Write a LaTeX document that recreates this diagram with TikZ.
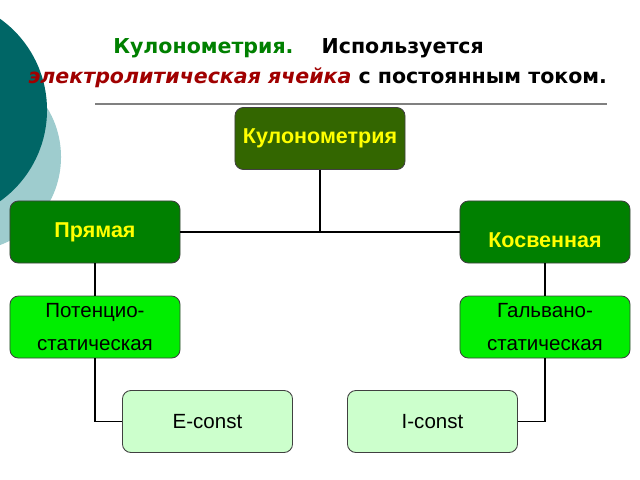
\documentclass[tikz,border=0pt]{standalone}
\usepackage{fontspec}
\setmainfont{Liberation Sans}
\newfontfamily\headfont{DejaVu Sans}
\usetikzlibrary{positioning}
\definecolor{tealdark}{RGB}{0,102,102}
\definecolor{teallight}{RGB}{158,204,206}
\definecolor{olivebox}{RGB}{51,102,0}
\definecolor{greenbox}{RGB}{0,128,0}
\definecolor{limebox}{RGB}{0,238,0}
\definecolor{palebox}{RGB}{204,255,204}
\definecolor{boxyellow}{RGB}{255,255,0}
\definecolor{titlegreen}{RGB}{0,128,0}
\definecolor{titlered}{RGB}{160,0,0}
\tikzset{cbox/.style={draw=black!75, line width=0.6pt, rounded corners=6pt, minimum width=4.25cm, minimum height=1.55cm, inner sep=0pt, outer sep=0pt, align=center, font=\fontsize{14.6}{17.5}\selectfont}}
\tikzset{cbox0/.style={cbox, fill=olivebox, text=boxyellow, font=\bfseries\fontsize{15.3}{18}\selectfont}}
\tikzset{cbox1/.style={cbox, fill=greenbox, text=boxyellow, font=\bfseries\fontsize{15.3}{18}\selectfont}}
\tikzset{cbox2/.style={cbox, fill=limebox, text=black}}
\tikzset{cbox3/.style={cbox, fill=palebox, text=black}}
\tikzset{klbl/.style={text=boxyellow, font=\bfseries\fontsize{15.3}{18}\selectfont, inner sep=0pt}}
\tikzset{ttl/.style={anchor=base west, inner sep=0pt, font=\headfont\bfseries\fontsize{14.6}{17.5}\selectfont}}
\tikzset{conn/.style={draw, line width=1.3pt}}
\tikzset{sepline/.style={draw=gray, line width=0.8pt}}

\begin{document}
\begin{tikzpicture}[x=0.025cm, y=-0.025cm]
	\useasboundingbox (0,0) rectangle (640,480);
	% corner circles
	\fill[teallight] (-33,157) circle (2.35cm);
	\fill[tealdark] (-65,110) circle (2.8cm);
	% heading
	\node[ttl] (ttl1) at (113,54)
		{\textcolor{titlegreen}{Кулонометрия.}\hspace{20pt}Используется};
	\node[ttl] (ttl2) at (28,83)
		{\textcolor{titlered}{\itshape электролитическая ячейка} с постоянным током.};
	\coordinate (sepL) at (95,104);
	\coordinate (sepR) at (607,104);
	\draw[sepline] (sepL) -- (sepR);
	% tree
	\node[cbox0] (kul) at (320,138.5) {Кулонометрия};
	\node[cbox1] (pryam) at (95,232) {Прямая};
	\node[cbox1, label={[klbl, yshift=-0.2cm]center:Косвенная}] (kosv) at (545,232) {};
	\node[cbox2, below=0.825cm of pryam] (poten) {Потенцио-\\[6.5pt]статическая};
	\node[cbox2, below=0.825cm of kosv] (galv) {Гальвано-\\[6.5pt]статическая};
	\node[cbox3] (econst) at (207.5,421.5) {E-const};
	\node[cbox3] (iconst) at (432.5,421.5) {I-const};
	\draw[conn] (kul.south) -- (kul.south |- pryam.east);
	\draw[conn] (pryam.east) -- (kosv.west);
	\draw[conn] (pryam.south) -- (poten.north);
	\draw[conn] (kosv.south) -- (galv.north);
	\draw[conn] (poten.south) |- (econst.west);
	\draw[conn] (galv.south) |- (iconst.east);
\end{tikzpicture}
\end{document}
